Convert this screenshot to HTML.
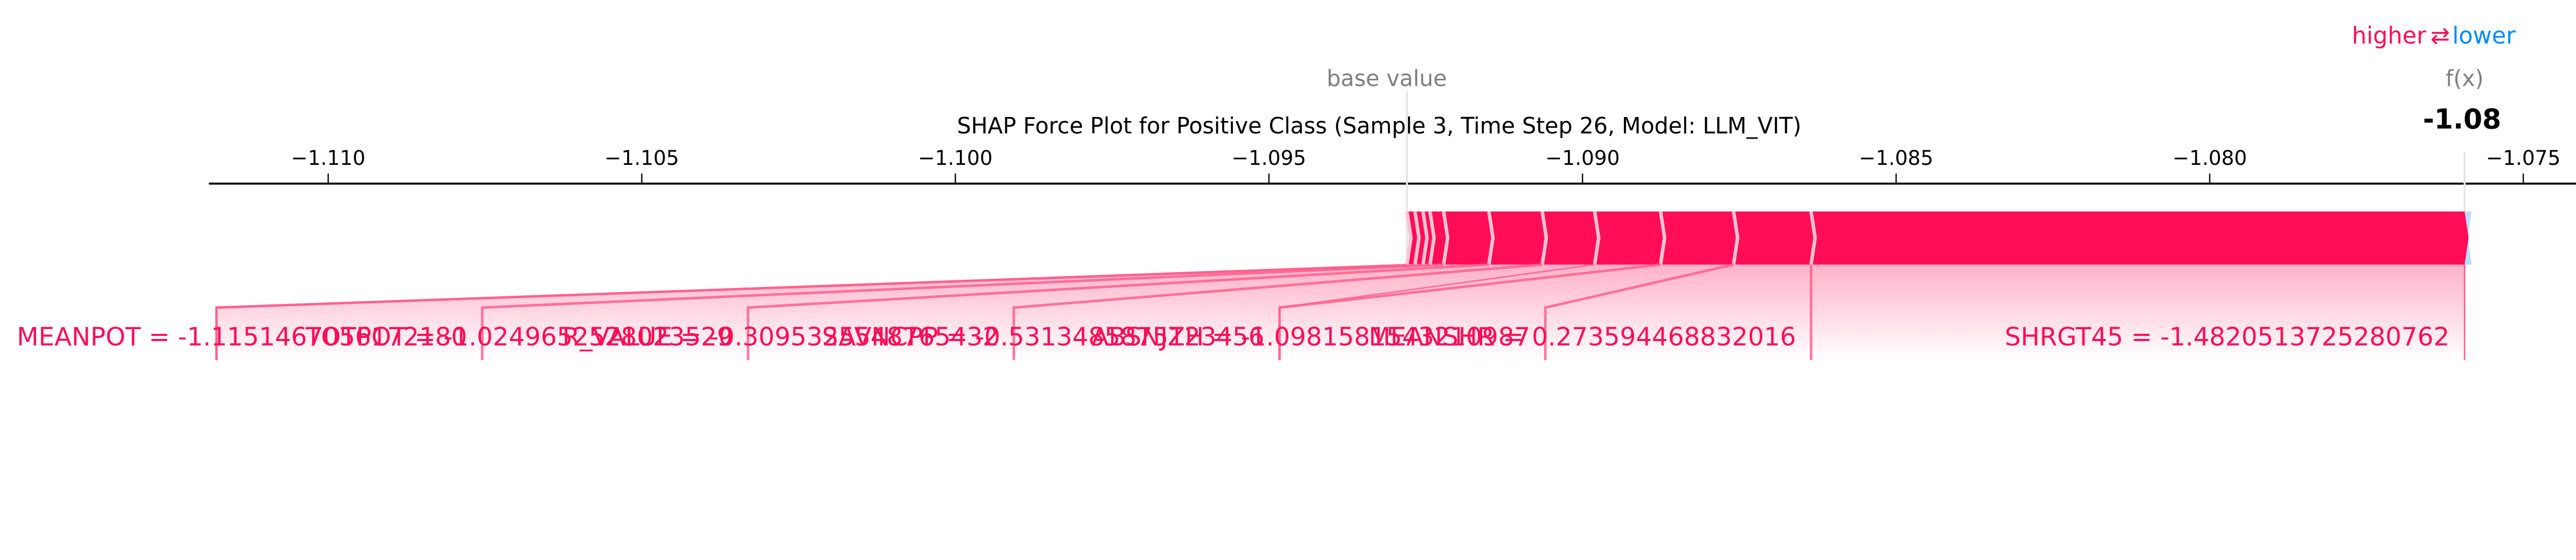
<!DOCTYPE html>
<html><head><meta charset="utf-8"><style>
html,body{margin:0;padding:0;background:#fff;}
svg{display:block;font-family:"DejaVu Sans","Liberation Sans",sans-serif;}
</style></head><body>
<svg id="chart" width="5121" height="1087" viewBox="0 0 5121 1087" xmlns="http://www.w3.org/2000/svg">
<defs>
<linearGradient id="fade" x1="0" y1="0" x2="0" y2="1">
<stop offset="0" stop-color="#ff0d57" stop-opacity="0.32"/>
<stop offset="1" stop-color="#ff0d57" stop-opacity="0"/>
</linearGradient>
</defs>
<g transform="scale(0.977,0.982)">
<text x="4820" y="86" font-size="46" fill="#ff0d57" text-anchor="end">higher</text>
<text x="4848" y="86" font-size="46" text-anchor="middle"><tspan fill="#ff0d57">⇄</tspan></text>
<text x="4872" y="86" font-size="46" fill="#008bfb">lower</text>
<text x="2740" y="264" font-size="44" fill="#000" text-anchor="middle">SHAP Force Plot for Positive Class (Sample 3, Time Step 26, Model: LLM_VIT)</text>
<g id="axis"></g>
<g id="marks"></g>
</g>
</svg>
<script>
const baseValue = -1.0928;
const tickValues = [-1.110, -1.105, -1.100, -1.095, -1.090, -1.085, -1.080, -1.075];
const tickLabels = ["\u22121.110","\u22121.105","\u22121.100","\u22121.095","\u22121.090","\u22121.085","\u22121.080","\u22121.075"];
// features ordered from the one adjacent to f(x) leftwards
const featureNames = ["SHRGT45 = -1.4820513725280762","MEANSHR = 0.273594468832016","ABSNJZH = -1.0981581543210987","USFLUX = -0.5115681409876543","SAVNCPP = -0.5313485875123456","R_VALUE = -0.3095325548765432","TOTPOT = -1.0249652528023529","MEANPOT = -1.1151467056172180","F9","F10","F11"];
const featureValues = [0.01042, 0.001236, 0.001164, 0.001051, 0.000835, 0.000851, 0.000722, 0.000217, 0.000112, 0.000128, 0.000128];
const labelShown = [true,true,true,false,true,true,true,true,false,false,false];

const NS="http://www.w3.org/2000/svg";
const X0=652, PX_PER_UNIT=623/0.005;
const REGION_W=528;
function xs(v){return X0+(v+1.110)*PX_PER_UNIT;}
function mk(tag,attrs,parent){const e=document.createElementNS(NS,tag);for(const k in attrs)e.setAttribute(k,attrs[k]);parent.appendChild(e);return e;}
const axis=document.getElementById('axis'), marks=document.getElementById('marks');

const axisLine=mk('line',{x1:415,x2:5180,y1:363,y2:363,stroke:'#000','stroke-width':4},axis);


tickValues.forEach((v,i)=>{
  const t=mk('line',{x1:xs(v),x2:xs(v),y1:343,y2:363,stroke:'#000','stroke-width':2.5},axis);
  
  
  const l=mk('text',{x:xs(v),y:326,'font-size':40,'text-anchor':'middle',fill:'#000'},axis);
  
  
  l.textContent=tickLabels[i];
});

const total=featureValues.reduce((a,b)=>a+b,0);
const fx=baseValue+total;
const xb=xs(baseValue), xf=xs(fx);
const bl=mk('line',{x1:xb,x2:xb,y1:180,y2:530,stroke:'#e6e6e6','stroke-width':4},axis);


const bt=mk('text',{x:xb-40,y:170,'font-size':44,fill:'#808080','text-anchor':'middle'},axis);


bt.textContent='base value';
const fl=mk('line',{x1:xf,x2:xf,y1:300,y2:530,stroke:'#e6e6e6','stroke-width':4},axis);


const ft=mk('text',{x:xf,y:170,'font-size':44,fill:'#808080','text-anchor':'middle'},axis);


ft.textContent='f(x)';
const fv=mk('text',{x:xf-5,y:254,'font-size':54,'font-weight':'bold',fill:'#000','text-anchor':'middle'},axis);


fv.textContent=fx.toFixed(2);

const neg=mk('polygon',{points:`${xf},418 ${xf+14},418 ${xf+6},470 ${xf+14},523 ${xf},523 ${xf-6},470`,fill:'#bcdcf8'},marks);



const TOP=418,BOT=523,MID=470,H=8;
let right=xf;
const labelY=683, elbowY=608, lineBot=712;
const boundaries=[];
featureValues.forEach((v,i)=>{
  const left=right-v*PX_PER_UNIT;
  const p=mk('polygon',{points:`${left},${TOP} ${right},${TOP} ${right+H},${MID} ${right},${BOT} ${left},${BOT} ${left+H},${MID}`,fill:'#ff0d57'},marks);
  
  
  boundaries.push({left,right,i});
  right=left;
});
let rr=xf;
const regions=[];
boundaries.forEach((b,i)=>{
  if(!labelShown[i]){regions.push({l:rr,r:rr});return;}
  const w = i===0 ? (b.right-b.left) : REGION_W;
  const r = Math.min(b.right, rr);
  const l = r - w;
  regions.push({l,r});
  rr=l;
});
const last=regions[regions.length-1];
const poly=[`${xf},${BOT}`,`${boundaries[boundaries.length-1].left},${BOT}`,`${last.l},${elbowY}`,`${last.l},${lineBot}`,`${xf},${lineBot}`];
const g=mk('polygon',{points:poly.join(' '),fill:'url(#fade)'},marks);


boundaries.forEach((b,i)=>{
  const s=mk('polyline',{points:`${b.left},${TOP} ${b.left+H},${MID} ${b.left},${BOT}`,fill:'none',stroke:'#ffc3d5','stroke-width':7},marks);
  
  
  const rg=regions[i];
  const c=mk('polyline',{points:`${b.left},${BOT} ${rg.l},${elbowY} ${rg.l},${lineBot}`,fill:'none',stroke:'#ff5f8d','stroke-width':labelShown[i]?5:3,'stroke-opacity':0.85},marks);
  
  
});
const rl=mk('line',{x1:xf,x2:xf,y1:BOT,y2:lineBot,stroke:'#ff5f8d','stroke-width':3},marks);


boundaries.forEach((b,i)=>{
  if(!labelShown[i])return;
  const t=mk('text',{x:regions[i].r-30,y:labelY,'font-size':50,fill:'#ff0d57','text-anchor':'end'},marks);
  
  
  t.textContent=featureNames[i];
});
</script>
</body></html>
